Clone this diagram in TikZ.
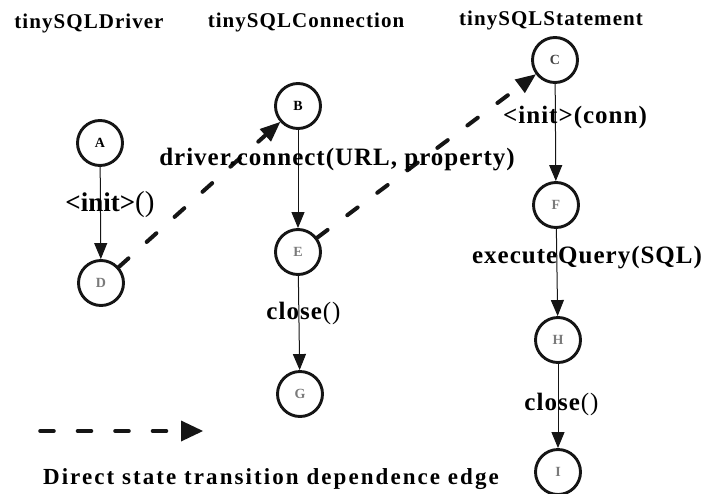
\documentclass[tikz,border=0pt]{standalone}
\usepackage{fontspec}
\setmainfont{Liberation Serif}
\usepackage{xcolor}
\usepackage{tikz}
\usetikzlibrary{arrows.meta}
\definecolor{ink}{HTML}{151515}
\definecolor{stategray}{HTML}{7A7A7A}

\tikzset{
  state/.style={circle, draw=ink, line width=2.9pt, minimum size=45pt,
    inner sep=0pt, font=\fontsize{14}{14}\selectfont\bfseries},
  trans/.style={draw=ink, line width=1pt,
    -{Triangle[length=16pt,width=13pt]}},
  depend/.style={draw=ink, line width=4.6pt, line cap=round,
    dash pattern=on 13pt off 24.5pt,
    -{Triangle[length=22pt,width=21pt,line width=0pt]}},
  classname/.style={font=\fontsize{21}{21}\selectfont\bfseries\addfontfeature{LetterSpace=5}},
  calllabel/.style={font=\fontsize{25}{25}\selectfont\bfseries\addfontfeature{LetterSpace=4}},
  legendtext/.style={font=\fontsize{23}{23}\selectfont\bfseries\addfontfeature{LetterSpace=9}}
}

\begin{document}
\begin{tikzpicture}[x=1pt, y=-1pt]

\useasboundingbox (0,0) rectangle (704,493);

% =========================
% CLASS NAMES (one column each)
% =========================
\node[classname] (driver) at (89,23) {tinySQLDriver};
\node[classname] (connection) at (306,22) {tinySQLConnection};
\node[classname] (statement) at (551,20) {tinySQLStatement};

% =========================
% STATES
% =========================
\node[state] (A) at (100,143) {A};
\node[state, text=stategray] (D) at (101,283) {D};

\node[state] (B) at (298,106) {B};
\node[state, text=stategray] (E) at (298,252) {E};
\node[state, text=stategray] (G) at (300,394) {G};

\node[state, text=ink!80] (C) at (555,60) {C};
\node[state, text=stategray] (F) at (556,205) {F};
\node[state, text=stategray] (H) at (558,340) {H};
\node[state, text=stategray] (I) at (558,472) {I};

% =========================
% TRANSITIONS INSIDE A CLASS
% =========================
\draw[trans] (A) -- (D);
\draw[trans] (B) -- (E);
\draw[trans] (E) -- (G);
\draw[trans] (C) -- (F);
\draw[trans] (F) -- (H);
\draw[trans] (H) -- (I);

% =========================
% DEPENDENCE EDGES BETWEEN CLASSES
% =========================
\draw[depend, line width=4pt, -{Triangle[length=20pt,width=17pt,line width=0pt]}] (D) -- (B);
\draw[depend, line width=4pt, -{Triangle[length=20pt,width=17pt,line width=0pt]}] (E) -- (C);

% =========================
% CALL LABELS
% =========================
\node[calllabel, font=\fontsize{27}{27}\selectfont\bfseries] (initdriver) at (110,205) {<init>\textmd{\fontsize{29}{29}\selectfont()}};
\node[calllabel] (connect) at (337,160) {driver.connect(URL, property)};
\node[calllabel] (initstmt) at (575,117) {<init>(conn)};
\node[calllabel] (query) at (587,258) {executeQuery(SQL)};
\node[calllabel] (closeconn) at (304,313) {close\textmd{()}};
\node[calllabel] (closestmt) at (562,404) {close\textmd{()}};

% =========================
% LEGEND
% =========================
\coordinate (legstart) at (40.5,431);
\coordinate (legend) at (203,431);
\draw[depend] (legstart) -- (legend);

\node[legendtext] (legendlabel) at (271,479) {Direct state transition dependence edge};

\end{tikzpicture}
\end{document}
